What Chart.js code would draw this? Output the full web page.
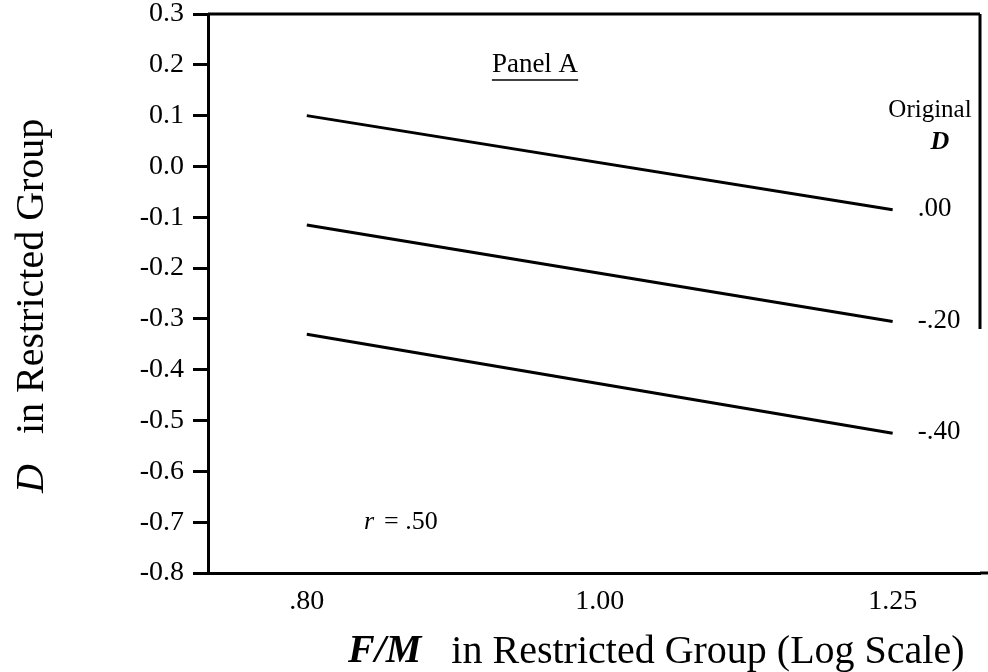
<!DOCTYPE html>
<html>
<head>
<meta charset="utf-8">
<script src="https://cdn.jsdelivr.net/npm/chart.js@4/dist/chart.umd.min.js"></script>
<style>
  html, body { margin: 0; padding: 0; background: #fff; }
</style>
</head>
<body>
<canvas id="grafica" width="988" height="672"></canvas>
<script>
// ---- datos ----
const fmRatios = [0.80, 1.25];          // F/M en grupo restringido
const dOriginal00 = [0.10, -0.085];      // D original = .00
const dOriginal20 = [-0.115, -0.305];    // D original = -.20
const dOriginal40 = [-0.33, -0.525];     // D original = -.40
const lineLabels = ['.00', '-.20', '-.40'];
const xTicks = [0.80, 1.00, 1.25];
const xTickLabels = ['.80', '1.00', '1.25'];
const yMin = -0.8, yMax = 0.3, yStep = 0.1;

const serif = "'Liberation Serif', 'Times New Roman', serif";

function serie(vals) {
    return {
        data: fmRatios.map((x, i) => ({ x: x, y: vals[i] })),
        borderColor: '#000',
        borderWidth: 3,
        pointRadius: 0,
        fill: false,
        tension: 0
    };
}

// textos y marco extra
const adornos = {
    id: 'adornos',
    afterDraw(chart) {
        const ctx = chart.ctx;
        const a = chart.chartArea;
        const ys = chart.scales.y;
        ctx.save();
        ctx.strokeStyle = '#000';
        ctx.fillStyle = '#000';
        ctx.lineWidth = 3;

        // borde superior, derecho (parcial) y extensión del eje x
        ctx.beginPath();
        ctx.moveTo(a.left, a.top);
        ctx.lineTo(a.right, a.top);
        ctx.moveTo(a.right, a.top);
        ctx.lineTo(a.right, ys.getPixelForValue(-0.32));
        ctx.moveTo(a.right, a.bottom);
        ctx.lineTo(chart.width, a.bottom);
        ctx.stroke();

        // etiquetas al final de cada línea
        ctx.font = '27px ' + serif;
        ctx.textBaseline = 'middle';
        ctx.textAlign = 'left';
        chart.data.datasets.forEach((ds, i) => {
            const pts = chart.getDatasetMeta(i).data;
            const p = pts[pts.length - 1];
            ctx.fillText(lineLabels[i], p.x + 25, p.y - 1);
        });

        // leyenda "Original D"
        ctx.textAlign = 'center';
        ctx.font = '25px ' + serif;
        ctx.fillText('Original', 930, 110);
        ctx.font = 'italic bold 26px ' + serif;
        ctx.fillText('D', 940, 142);

        // Panel A subrayado
        ctx.font = '27px ' + serif;
        ctx.fillText('Panel A', 535, 65);
        const wP = ctx.measureText('Panel A').width;
        ctx.lineWidth = 1.5;
        ctx.beginPath();
        ctx.moveTo(535 - wP / 2, 80);
        ctx.lineTo(535 + wP / 2, 80);
        ctx.stroke();

        // r = .50
        ctx.textAlign = 'left';
        ctx.font = 'italic 26px ' + serif;
        ctx.fillText('r', 364, ys.getPixelForValue(-0.7));
        ctx.font = '26px ' + serif;
        ctx.fillText('= .50', 384, ys.getPixelForValue(-0.7));

        // título eje x
        ctx.font = 'italic bold 40px ' + serif;
        ctx.fillText('F/M', 348, 652);
        let w = ctx.measureText('F/M').width;
        ctx.font = '40px ' + serif;
        ctx.fillText('in Restricted Group (Log Scale)', 348 + w + 30, 652);

        // título eje y
        ctx.translate(32, 493);
        ctx.rotate(-Math.PI / 2);
        ctx.font = 'italic 40px ' + serif;
        ctx.fillText('D', 0, 0);
        w = ctx.measureText('D').width;
        ctx.font = '40px ' + serif;
        ctx.fillText('in Restricted Group', w + 30, 0);
        ctx.restore();
    }
};

const ctx = document.getElementById('grafica').getContext('2d');
const grafica = new Chart(ctx, {
    type: 'line',
    data: {
        datasets: [serie(dOriginal00), serie(dOriginal20), serie(dOriginal40)]
    },
    options: {
        responsive: false,
        animation: false,
        layout: { padding: { top: 14, right: 8, left: 0, bottom: 0 } },
        plugins: { legend: { display: false }, tooltip: { enabled: false } },
        scales: {
            x: {
                type: 'logarithmic',
                min: 0.742,
                max: 1.336,
                afterBuildTicks: (axis) => { axis.ticks = xTicks.map(v => ({ value: v })); },
                afterFit: (scale) => { scale.height = 99; scale.paddingLeft = 0; scale.paddingRight = 0; },
                grid: { display: false },
                border: { display: true, color: '#000', width: 3 },
                ticks: {
                    autoSkip: false,
                    maxRotation: 0,
                    padding: 4,
                    color: '#000',
                    font: { family: serif, size: 28 },
                    callback: (v, i) => xTickLabels[i]
                }
            },
            y: {
                min: yMin,
                max: yMax,
                afterFit: (scale) => { scale.width = 208; scale.paddingTop = 0; scale.paddingBottom = 0; },
                grid: { drawOnChartArea: false, drawTicks: true, tickLength: 15, color: '#000', lineWidth: 3 },
                border: { display: true, color: '#000', width: 3 },
                ticks: {
                    stepSize: yStep,
                    padding: 9,
                    color: '#000',
                    font: { family: serif, size: 28 },
                    callback: (v) => Math.abs(v) < 1e-9 ? '0.0' : v.toFixed(1)
                }
            }
        }
    },
    plugins: [adornos]
});
</script>
</body>
</html>
